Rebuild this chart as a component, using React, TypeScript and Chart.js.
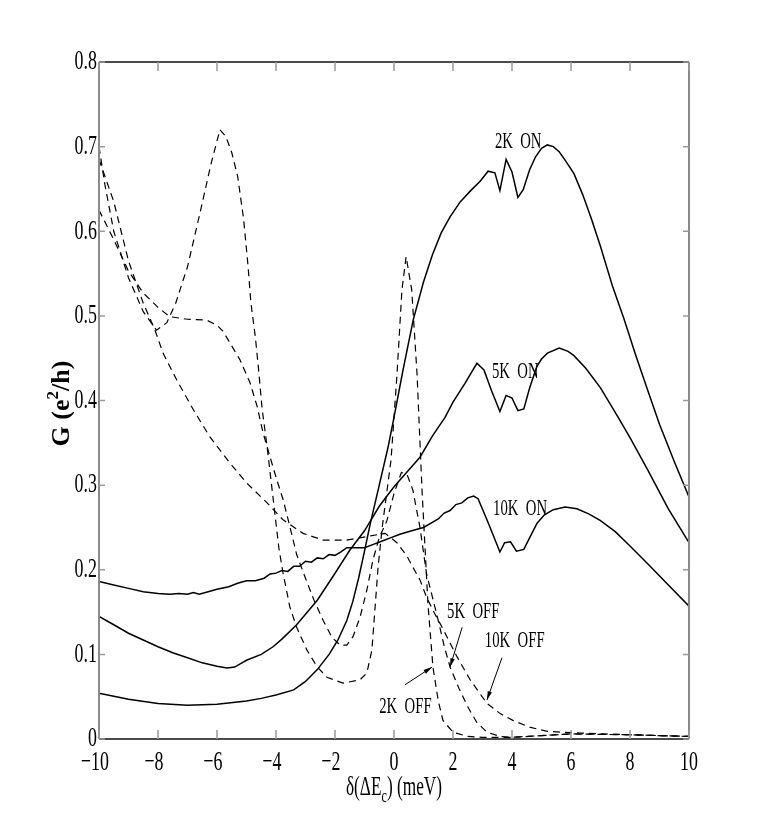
import { useEffect, useRef } from 'react';
import { Chart, registerables } from 'chart.js';

Chart.register(...registerables);

// axis ticks
const xTicks = [-10, -8, -6, -4, -2, 0, 2, 4, 6, 8, 10];
const xTickLabels = ['\u221210', '\u22128', '\u22126', '\u22124', '\u22122', '0', '2', '4', '6', '8', '10'];
const yTicks = [0, 0.1, 0.2, 0.3, 0.4, 0.5, 0.6, 0.7, 0.8];
const yTickLabels = ['0', '0.1', '0.2', '0.3', '0.4', '0.5', '0.6', '0.7', '0.8'];

// 2K ON (solid)
const on2kX = [-10, -9, -8, -7, -6, -5, -4.5, -4, -3.4, -3.0, -2.6, -2.2, -1.9, -1.6, -1.4, -1.2, -1.0, -0.8, -0.5, -0.2, 0, 0.3, 0.65, 1.0, 1.3, 1.6, 1.9, 2.25, 2.6, 2.92, 3.19, 3.42, 3.59, 3.8, 4.0, 4.2, 4.38, 4.6, 4.8, 5.0, 5.2, 5.4, 5.6, 5.8, 6.1, 6.4, 6.7, 7.0, 7.4, 7.8, 8.2, 8.6, 9.0, 9.5, 10];
const on2kY = [0.054, 0.047, 0.042, 0.040, 0.041, 0.045, 0.048, 0.052, 0.058, 0.068, 0.082, 0.100, 0.117, 0.14, 0.162, 0.19, 0.222, 0.255, 0.30, 0.345, 0.38, 0.435, 0.495, 0.54, 0.572, 0.598, 0.617, 0.635, 0.648, 0.659, 0.671, 0.669, 0.648, 0.685, 0.670, 0.640, 0.649, 0.673, 0.688, 0.698, 0.702, 0.700, 0.694, 0.684, 0.668, 0.643, 0.614, 0.582, 0.536, 0.496, 0.453, 0.412, 0.372, 0.328, 0.286];

// 5K ON (solid)
const on5kX = [-10, -9.5, -9, -8.5, -8, -7.5, -7, -6.5, -6, -5.66, -5.4, -5.2, -5, -4.5, -4.1, -3.8, -3.3, -2.6, -2.07, -1.5, -1.0, -0.5, 0, 0.5, 0.88, 1.3, 1.73, 2.0, 2.4, 2.81, 3.05, 3.3, 3.59, 3.8, 4.0, 4.2, 4.4, 4.6, 4.84, 5.0, 5.2, 5.6, 5.9, 6.1, 6.5, 7.0, 7.6, 8.0, 8.6, 9.3, 10];
const on5kY = [0.145, 0.135, 0.125, 0.117, 0.109, 0.102, 0.096, 0.090, 0.086, 0.084, 0.085, 0.089, 0.093, 0.100, 0.109, 0.118, 0.135, 0.164, 0.192, 0.223, 0.246, 0.275, 0.298, 0.318, 0.333, 0.358, 0.380, 0.398, 0.420, 0.444, 0.436, 0.412, 0.387, 0.406, 0.403, 0.388, 0.390, 0.415, 0.440, 0.449, 0.456, 0.462, 0.458, 0.453, 0.438, 0.415, 0.380, 0.356, 0.318, 0.272, 0.232];

// 10K ON (solid)
const on10kX = [-10, -9.5, -9, -8.5, -8, -7.6, -7.3, -7, -6.8, -6.6, -6.3, -6, -5.6, -5.3, -5.0, -4.7, -4.4, -4.2, -4.0, -3.8, -3.6, -3.4, -3.2, -3.0, -2.8, -2.6, -2.4, -2.2, -2.0, -1.8, -1.6, -1.0, -0.7, -0.4, -0.1, 0.2, 0.6, 1.0, 1.3, 1.5, 1.7, 1.9, 2.1, 2.3, 2.5, 2.7, 2.85, 3.2, 3.59, 3.75, 3.95, 4.15, 4.4, 4.6, 4.85, 5.1, 5.4, 5.8, 6.2, 6.6, 7.0, 7.5, 8.0, 8.6, 9.3, 10];
const on10kY = [0.186, 0.182, 0.178, 0.174, 0.172, 0.171, 0.172, 0.171, 0.173, 0.171, 0.174, 0.177, 0.180, 0.184, 0.187, 0.187, 0.190, 0.195, 0.196, 0.199, 0.198, 0.204, 0.204, 0.210, 0.209, 0.214, 0.213, 0.218, 0.217, 0.221, 0.226, 0.226, 0.230, 0.234, 0.238, 0.242, 0.246, 0.250, 0.256, 0.260, 0.267, 0.270, 0.277, 0.279, 0.285, 0.287, 0.284, 0.255, 0.221, 0.232, 0.233, 0.222, 0.224, 0.238, 0.255, 0.265, 0.271, 0.274, 0.272, 0.266, 0.258, 0.245, 0.228, 0.207, 0.182, 0.157];

// 2K OFF (dashed)
const off2kX = [-10, -9.8, -9.5, -9.0, -8.5, -8.05, -7.7, -7.4, -7.0, -6.6, -6.2, -5.9, -5.7, -5.5, -5.3, -5.1, -4.95, -4.85, -4.7, -4.6, -4.47, -4.3, -4.15, -4.0, -3.9, -3.76, -3.53, -3.3, -2.95, -2.6, -2.27, -1.73, -1.15, -0.92, -0.75, -0.64, -0.54, -0.4, -0.25, -0.1, 0.1, 0.27, 0.41, 0.6, 0.78, 0.95, 1.15, 1.32, 1.5, 1.66, 2.0, 2.5, 3.0, 4.0, 5.0, 6.0, 8.0, 10];
const off2kY = [0.70, 0.655, 0.60, 0.545, 0.505, 0.483, 0.492, 0.515, 0.558, 0.618, 0.680, 0.720, 0.712, 0.693, 0.665, 0.615, 0.560, 0.515, 0.475, 0.440, 0.390, 0.345, 0.300, 0.255, 0.225, 0.196, 0.156, 0.132, 0.105, 0.085, 0.073, 0.066, 0.070, 0.078, 0.105, 0.156, 0.203, 0.250, 0.290, 0.330, 0.430, 0.531, 0.570, 0.531, 0.432, 0.294, 0.160, 0.085, 0.045, 0.022, 0.008, 0.003, 0.002, 0.002, 0.004, 0.006, 0.005, 0.003];

// 5K OFF (dashed)
const off5kX = [-10, -9.5, -9.0, -8.5, -8.0, -7.6, -7.0, -6.35, -6.0, -5.8, -5.56, -5.22, -4.88, -4.64, -4.44, -4.2, -3.97, -3.76, -3.53, -3.3, -3.0, -2.7, -2.4, -2.1, -1.83, -1.6, -1.39, -1.15, -0.92, -0.71, -0.5, -0.24, 0.0, 0.25, 0.45, 0.64, 0.88, 1.1, 1.3, 1.5, 1.7, 1.9, 2.2, 2.5, 2.8, 3.15, 3.6, 4.0, 5.0, 6.0, 8.0, 10];
const off5kY = [0.625, 0.59, 0.553, 0.527, 0.510, 0.499, 0.496, 0.495, 0.489, 0.482, 0.468, 0.448, 0.421, 0.393, 0.362, 0.333, 0.306, 0.283, 0.251, 0.218, 0.190, 0.163, 0.140, 0.120, 0.111, 0.111, 0.121, 0.144, 0.176, 0.212, 0.238, 0.258, 0.290, 0.315, 0.312, 0.294, 0.250, 0.196, 0.168, 0.140, 0.110, 0.085, 0.060, 0.038, 0.020, 0.008, 0.003, 0.002, 0.004, 0.006, 0.005, 0.003];

// 10K OFF (dashed)
const off10kX = [-10, -9.5, -9.0, -8.5, -8.1, -7.83, -7.36, -6.8, -6.24, -5.56, -4.98, -4.3, -3.76, -3.08, -2.4, -1.6, -0.8, -0.3, 0.1, 0.44, 0.64, 0.88, 1.1, 1.32, 1.63, 2.14, 2.58, 3.15, 3.6, 4.03, 4.6, 5.2, 6.3, 8.0, 10];
const off10kY = [0.685, 0.635, 0.565, 0.515, 0.483, 0.456, 0.424, 0.389, 0.357, 0.326, 0.302, 0.279, 0.259, 0.243, 0.235, 0.235, 0.240, 0.243, 0.232, 0.216, 0.203, 0.188, 0.168, 0.152, 0.132, 0.097, 0.070, 0.042, 0.030, 0.022, 0.014, 0.009, 0.007, 0.005, 0.003];

// curve labels: text, x, y (baseline, data units)
const curveLabels: [string, number, number][] = [
  ['2K  ON', 3.42, 0.698],
  ['5K  ON', 3.32, 0.427],
  ['10K  ON', 3.36, 0.265],
  ['5K  OFF', 1.8, 0.143],
  ['10K  OFF', 3.08, 0.109],
  ['2K  OFF', -0.5, 0.031],
];

// arrows: from (x,y) to (x,y)
const arrows: [number, number, number, number][] = [
  [0.37, 0.064, 1.29, 0.085],
  [2.31, 0.132, 1.9, 0.085],
  [3.66, 0.096, 3.15, 0.046],
];

const SQUEEZE = 0.64;
const SERIF = '"Liberation Serif", "Times New Roman", serif';

function pts(xs: number[], ys: number[]) {
  return xs.map((x, i) => ({ x, y: ys[i] }));
}

function squeezed(ctx: CanvasRenderingContext2D, text: string, x: number, y: number, align: CanvasTextAlign) {
  ctx.save();
  ctx.translate(x, y);
  ctx.scale(SQUEEZE, 1);
  ctx.textAlign = align;
  ctx.fillText(text, 0, 0);
  ctx.restore();
}

const framePlugin = {
  id: 'frame',
  afterDatasetsDraw(chart: Chart) {
    const ctx = chart.ctx;
    const { left, right, top, bottom } = chart.chartArea;
    const xs = chart.scales.x;
    const ys = chart.scales.y;
    ctx.save();

    // box
    ctx.lineWidth = 1.5;
    ctx.strokeStyle = '#111';
    ctx.beginPath();
    ctx.moveTo(left, top); ctx.lineTo(right, top);
    ctx.moveTo(left, bottom); ctx.lineTo(right, bottom);
    ctx.stroke();
    ctx.lineWidth = 2;
    ctx.strokeStyle = '#8a8a8a';
    ctx.beginPath();
    ctx.moveTo(left, top); ctx.lineTo(left, bottom);
    ctx.moveTo(right, top); ctx.lineTo(right, bottom);
    ctx.stroke();

    // ticks
    ctx.lineWidth = 1.5;
    ctx.strokeStyle = '#9a9a9a';
    ctx.beginPath();
    xTicks.forEach((v) => {
      const px = xs.getPixelForValue(v);
      ctx.moveTo(px, bottom); ctx.lineTo(px, bottom - 9);
      ctx.moveTo(px, top); ctx.lineTo(px, top + 9);
    });
    yTicks.forEach((v) => {
      const py = ys.getPixelForValue(v);
      ctx.moveTo(left, py); ctx.lineTo(left + 6, py);
      ctx.moveTo(right, py); ctx.lineTo(right - 6, py);
    });
    ctx.stroke();

    // tick labels
    ctx.fillStyle = '#000';
    ctx.font = `28px ${SERIF}`;
    ctx.textBaseline = 'middle';
    yTicks.forEach((v, i) => {
      squeezed(ctx, yTickLabels[i], left - 2, ys.getPixelForValue(v), 'right');
    });
    ctx.textBaseline = 'alphabetic';
    xTicks.forEach((v, i) => {
      squeezed(ctx, xTickLabels[i], xs.getPixelForValue(v) - (v < 0 ? 4 : 0), bottom + 31, 'center');
    });

    // x title with subscript
    const parts: [string, number, number][] = [
      ['\u03b4(\u0394E', 27, 0],
      ['c', 19, 7],
      [') (meV)', 27, 0],
    ];
    let total = 0;
    parts.forEach(([t, s]) => {
      ctx.font = `${s}px ${SERIF}`;
      total += ctx.measureText(t).width * SQUEEZE;
    });
    let cx = (left + right) / 2 - total / 2;
    parts.forEach(([t, s, dy]) => {
      ctx.font = `${s}px ${SERIF}`;
      squeezed(ctx, t, cx, bottom + 56 + dy, 'left');
      cx += ctx.measureText(t).width * SQUEEZE;
    });

    // y title with superscript
    const yparts: [string, number, number][] = [
      ['G (e', 26, 0],
      ['2', 17, -11],
      ['/h)', 26, 0],
    ];
    ctx.save();
    ctx.translate(69, (top + bottom) / 2 + 3);
    ctx.rotate(-Math.PI / 2);
    let ytot = 0;
    yparts.forEach(([t, s]) => {
      ctx.font = `bold ${s}px ${SERIF}`;
      ytot += ctx.measureText(t).width;
    });
    let yx = -ytot / 2;
    ctx.textAlign = 'left';
    yparts.forEach(([t, s, dy]) => {
      ctx.font = `bold ${s}px ${SERIF}`;
      ctx.fillText(t, yx, dy);
      yx += ctx.measureText(t).width;
    });
    ctx.restore();

    // curve labels
    ctx.font = `23px ${SERIF}`;
    curveLabels.forEach(([t, x, y]) => {
      squeezed(ctx, t, xs.getPixelForValue(x), ys.getPixelForValue(y), 'left');
    });

    // arrows
    ctx.strokeStyle = '#000';
    ctx.fillStyle = '#000';
    ctx.lineWidth = 1;
    arrows.forEach(([x0, y0, x1, y1]) => {
      const ax = xs.getPixelForValue(x0);
      const ay = ys.getPixelForValue(y0);
      const bx = xs.getPixelForValue(x1);
      const by = ys.getPixelForValue(y1);
      const ang = Math.atan2(by - ay, bx - ax);
      ctx.beginPath();
      ctx.moveTo(ax, ay);
      ctx.lineTo(bx, by);
      ctx.stroke();
      ctx.beginPath();
      ctx.moveTo(bx, by);
      ctx.lineTo(bx - 9 * Math.cos(ang - 0.25), by - 9 * Math.sin(ang - 0.25));
      ctx.lineTo(bx - 9 * Math.cos(ang + 0.25), by - 9 * Math.sin(ang + 0.25));
      ctx.closePath();
      ctx.fill();
    });

    ctx.restore();
  },
};

export default function App() {
  const canvasRef = useRef<HTMLCanvasElement>(null);
  const chartRef = useRef<Chart | null>(null);

  useEffect(() => {
    document.body.style.margin = '0';
    if (!canvasRef.current) return;
    if (chartRef.current) chartRef.current.destroy();

    const solid = { borderColor: '#000', borderWidth: 1.5, showLine: true, pointRadius: 0, tension: 0 };
    const dashed = { borderColor: '#000', borderWidth: 1.2, borderDash: [7, 5], showLine: true, pointRadius: 0, tension: 0 };

    chartRef.current = new Chart(canvasRef.current, {
      type: 'scatter',
      data: {
        datasets: [
          { label: '2K ON', data: pts(on2kX, on2kY), ...solid },
          { label: '5K ON', data: pts(on5kX, on5kY), ...solid },
          { label: '10K ON', data: pts(on10kX, on10kY), ...solid },
          { label: '2K OFF', data: pts(off2kX, off2kY), ...dashed },
          { label: '5K OFF', data: pts(off5kX, off5kY), ...dashed },
          { label: '10K OFF', data: pts(off10kX, off10kY), ...dashed },
        ],
      },
      options: {
        responsive: false,
        animation: false,
        layout: { padding: { left: 99, right: 72, top: 62, bottom: 91 } },
        scales: {
          x: { type: 'linear', min: -10, max: 10, display: false },
          y: { type: 'linear', min: 0, max: 0.8, display: false },
        },
        plugins: {
          legend: { display: false },
          tooltip: { enabled: false },
        },
      },
      plugins: [framePlugin],
    });

    return () => {
      if (chartRef.current) {
        chartRef.current.destroy();
        chartRef.current = null;
      }
    };
  }, []);

  return (
    <div style={{ width: 761, height: 830, background: '#fff' }}>
      <canvas ref={canvasRef} width={761} height={830} />
    </div>
  );
}
